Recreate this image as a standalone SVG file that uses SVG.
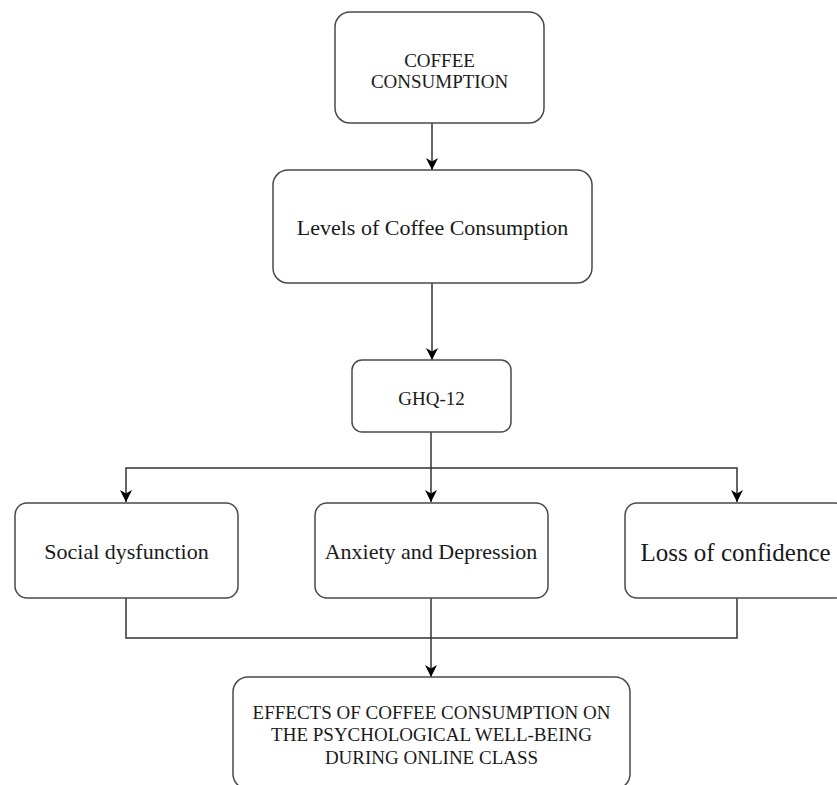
<svg xmlns="http://www.w3.org/2000/svg" width="837" height="785" viewBox="0 0 837 785">
<style>
.box{fill:#fff;stroke:#4a4a4a;stroke-width:1.5}
.t{font-family:"Liberation Serif","Times New Roman",serif;fill:#1a1a1a;text-anchor:middle}
.s19{font-size:19px}
.s22{font-size:22px}
.s25{font-size:25px}
.c{fill:none;stroke:#333;stroke-width:1.5}
</style>
<defs>
<marker id="arr" markerUnits="userSpaceOnUse" markerWidth="13" markerHeight="12" refX="12" refY="6" orient="auto">
<path d="M0,0 L12,6 L0,12 L3.5,6 z" fill="#000"/>
</marker>
</defs>
<rect width="837" height="785" fill="#fff"/>
<g id="connectors">
<path class="c" d="M432,123 V170" marker-end="url(#arr)"/>
<path class="c" d="M432,283 V360" marker-end="url(#arr)"/>
<path class="c" d="M431,432 V502" marker-end="url(#arr)"/>
<path class="c" d="M431,468 H126 V502" marker-end="url(#arr)"/>
<path class="c" d="M431,468 H737 V502" marker-end="url(#arr)"/>
<path class="c" d="M126,598 V638 H737 V598"/>
<path class="c" d="M431,598 V677" marker-end="url(#arr)"/>
</g>
<g id="coffee-consumption">
<rect class="box" x="335" y="12" width="209" height="111" rx="15"/>
<text class="t s19" x="439.5" y="67">COFFEE</text>
<text class="t s19" x="439.5" y="88">CONSUMPTION</text>
</g>
<g id="levels">
<rect class="box" x="273" y="170" width="319" height="113" rx="15"/>
<text class="t s22" x="432.5" y="235">Levels of Coffee Consumption</text>
</g>
<g id="ghq12">
<rect class="box" x="352" y="360" width="159" height="72" rx="10"/>
<text class="t s19" x="431.5" y="405">GHQ-12</text>
</g>
<g id="social">
<rect class="box" x="15" y="503" width="223" height="95" rx="12"/>
<text class="t s22" x="126.5" y="559">Social dysfunction</text>
</g>
<g id="anxiety">
<rect class="box" x="315" y="503" width="233" height="95" rx="12"/>
<text class="t s22" x="431" y="559">Anxiety and Depression</text>
</g>
<g id="loss">
<rect class="box" x="625" y="503" width="222" height="95" rx="12"/>
<text class="t s25" x="735.5" y="561">Loss of confidence</text>
</g>
<g id="effects">
<rect class="box" x="233" y="677" width="397" height="112" rx="15"/>
<text class="t s19" x="431.5" y="719">EFFECTS OF COFFEE CONSUMPTION ON</text>
<text class="t s19" x="431.5" y="741">THE PSYCHOLOGICAL WELL-BEING</text>
<text class="t s19" x="431.5" y="764">DURING ONLINE CLASS</text>
</g>
</svg>
